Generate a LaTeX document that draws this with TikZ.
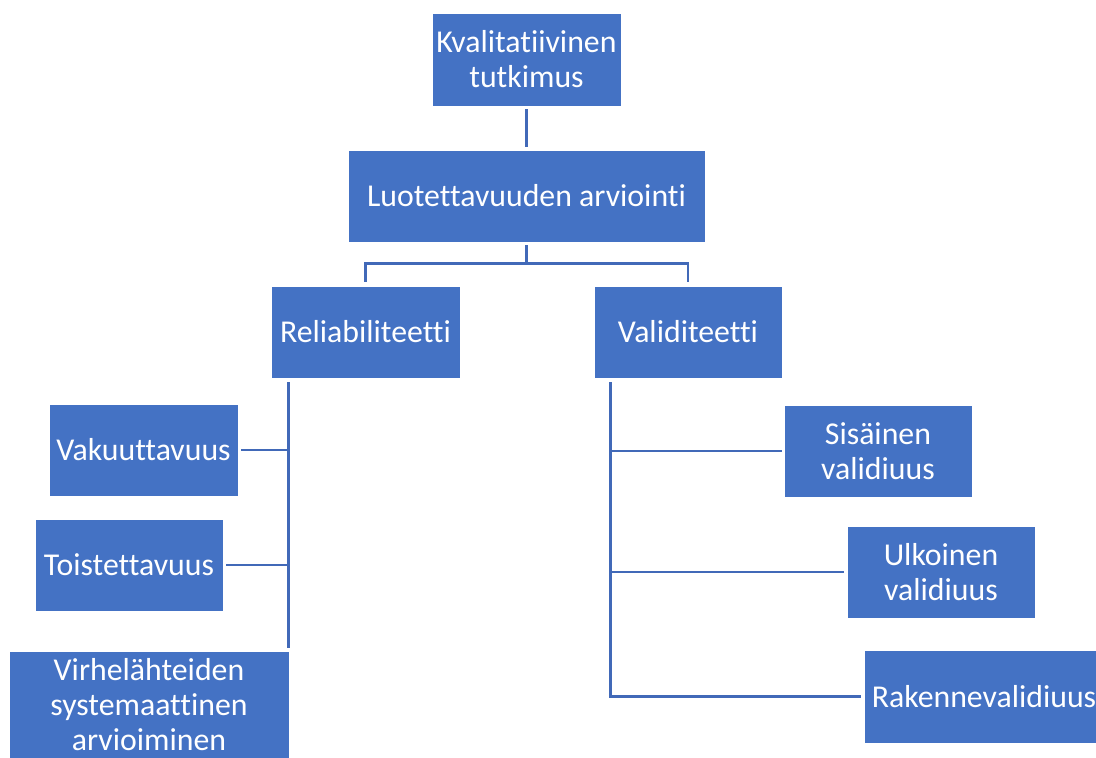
\documentclass[tikz,border=0pt]{standalone}
\usepackage{fontspec}
\setmainfont[Ligatures=NoCommon,RawFeature=-liga]{Carlito}
\usetikzlibrary{calc}
\definecolor{boxblue}{HTML}{4472C4}
\definecolor{linkblue}{HTML}{4169B8}
\begin{document}
\begin{tikzpicture}[x=1pt,y=-1pt,
  box/.style={fill=boxblue, draw=white, line width=0.8pt, text=white, align=center,
    inner sep=0pt, font=\fontsize{31.8}{35}\selectfont},
  link/.style={draw=linkblue, line width=2.6pt}]
\useasboundingbox (0,0) rectangle (1096,758);
\begin{scope}
\clip (0,0) rectangle (1096,758);
% top of the hierarchy
\node[box, minimum width=189, minimum height=93] (K) at (526.5,59.5) {Kvalitatiivinen\\tutkimus};
\node[box, minimum width=357, minimum height=92] (L) at (526.5,196) {Luotettavuuden arviointi};
% second level
\node[box, minimum width=189, minimum height=92] (R) at (365.5,332) {Reliabiliteetti};
\node[box, minimum width=188, minimum height=92] (V) at (688,332) {Validiteetti};
% reliability branch
\node[box, minimum width=189, minimum height=92] (Vak) at (143.5,450) {Vakuuttavuus};
\node[box, minimum width=188, minimum height=92] (Toi) at (129,565) {Toistettavuus};
\node[box, minimum width=280, minimum height=108] (Vir) at (149,705) {Virhelähteiden\\systemaattinen\\arvioiminen};
% validity branch
\node[box, minimum width=188, minimum height=92] (Sis) at (878,451) {Sisäinen\\validiuus};
\node[box, minimum width=188, minimum height=92] (Ulk) at (941,572) {Ulkoinen\\validiuus};
\node[box, minimum width=240, minimum height=93] (Rak) at (984,696.5) {Rakennevalidiuus};

% connectors
\draw[link] ($(K.south)+(0,3)$) -- ($(L.north)+(0,-3)$);
\coordinate (fork) at ($(L.south)+(0,21)$);
\draw[link] ($(L.south)+(0,3)$) -- (fork);
\draw[link] ($(R.north)+(0,-4)$) |- (fork) -| ($(V.north)+(0,-4)$);

\coordinate (rt) at ($(R.south west)+(18,4)$);
\coordinate (rb) at ($(rt |- Vir.north)+(0,-3)$);
\draw[link] (rt) -- (rb);
\draw[link] ($(Vak.east)+(3,0)$) -- (Vak.east -| rt);
\draw[link] ($(Toi.east)+(3,0)$) -- (Toi.east -| rt);

\coordinate (vt) at ($(V.south west)+(17,4)$);
\draw[link] (vt) |- ($(Rak.west)+(-3,0)$);
\draw[link] ($(Sis.west)+(-2,0)$) -- (Sis.west -| vt);
\draw[link] ($(Ulk.west)+(-3,0)$) -- (Ulk.west -| vt);
\end{scope}
\end{tikzpicture}
\end{document}
